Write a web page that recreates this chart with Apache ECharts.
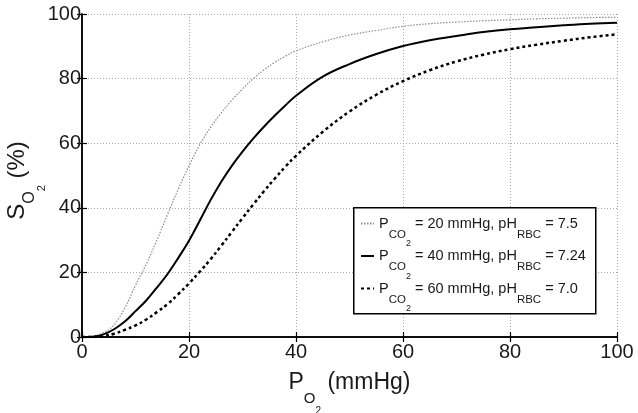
<!DOCTYPE html>
<html>
<head>
<meta charset="utf-8">
<script src="https://cdn.jsdelivr.net/npm/echarts@6/dist/echarts.min.js"></script>
<style>
  html, body { margin: 0; padding: 0; background: #fff; }
  #chart { width: 638px; height: 413px; }
</style>
</head>
<body>
<div id="chart"></div>
<script>
// PO2 (mmHg) sample points and SO2 (%)
var po2 = [0, 2, 4, 6, 8, 10, 12, 14, 16, 18, 20, 22, 24, 26, 28, 30, 32, 34, 36, 38, 40,
           45, 50, 55, 60, 65, 70, 75, 80, 85, 90, 95, 100];
var so2Pco2_20 = [0, 0.3, 1.3, 3.8, 9, 16, 22.5, 30, 38, 45.8, 53, 59.5, 64.8, 69.3, 73.3, 76.8, 80, 82.7, 85, 86.9, 88.6,
                  91.4, 93.5, 94.9, 96.2, 97, 97.5, 97.9, 98.2, 98.5, 98.7, 98.9, 99];
var so2Pco2_40 = [0, 0.1, 0.8, 2.4, 4.8, 8, 11.3, 15.3, 19.5, 24.5, 29.8, 36, 42.3, 48, 53, 57.4, 61.4, 65.1, 68.5, 71.7, 74.7,
                  80.6, 84.5, 87.6, 90.1, 91.9, 93.2, 94.4, 95.3, 95.9, 96.5, 97, 97.3];
var so2Pco2_60 = [0, 0, 0.3, 1, 2.2, 3.6, 5.4, 7.7, 10.2, 13.3, 16.6, 20.2, 24, 28.2, 32.5, 36.8, 41, 45.1, 49, 52.7, 56.1,
                  63.5, 69.8, 75, 79.2, 82.6, 85.3, 87.4, 89.1, 90.5, 91.7, 92.8, 93.7];
var seriesNames = ['pco2_20', 'pco2_40', 'pco2_60'];
var legendLabels = [
    '{m|P}{s|CO}{ss|2}{m| = 20 mmHg, pH}{s|RBC}{m| = 7.5}',
    '{m|P}{s|CO}{ss|2}{m| = 40 mmHg, pH}{s|RBC}{m| = 7.24}',
    '{m|P}{s|CO}{ss|2}{m| = 60 mmHg, pH}{s|RBC}{m| = 7.0}'
];
var xTicks = [0, 20, 40, 60, 80, 100];
var yTicks = [0, 20, 40, 60, 80, 100];

var font = 'Liberation Sans';
var ink = '#1a1a1a';

function pairs(xs, ys) {
    var out = [];
    for (let i = 0; i < xs.length; i++) {
        out.push([xs[i], ys[i]]);
    }
    return out;
}

// rich styles for main text + subscript + subscript of subscript.
// a 'bottom' token sits at lineHeight - height/2, so height sets how far down it goes
function subRich(size, subSize, subSubSize, lh, off1, off2) {
    return {
        m: { fontSize: size, lineHeight: lh, verticalAlign: 'middle', fontFamily: font, color: ink },
        s: { fontSize: subSize, height: lh - 2 * off1, lineHeight: lh - 2 * off1, verticalAlign: 'bottom', fontFamily: font, color: ink },
        ss: { fontSize: subSubSize, height: lh - 2 * off2, lineHeight: lh - 2 * off2, verticalAlign: 'bottom', fontFamily: font, color: ink },
        pad: { fontSize: size, width: 10, lineHeight: lh, verticalAlign: 'middle' }
    };
}

var myChart = echarts.init(document.getElementById('chart'), null, { renderer: 'canvas' });

var boxAxis = {
    axisLine: { show: true, lineStyle: { color: '#000', width: 1.5 } },
    axisTick: { show: true, inside: true, length: 5, lineStyle: { color: '#000', width: 1.2 } },
    axisLabel: { show: false },
    splitLine: { show: false }
};

var option = {
    animation: false,
    backgroundColor: '#fff',
    grid: { left: 82, right: 21, top: 14, bottom: 76, outerBoundsMode: 'none', containLabel: false },
    xAxis: [
        {
            type: 'value',
            min: xTicks[0],
            max: xTicks[xTicks.length - 1],
            interval: 20,
            position: 'bottom',
            axisLine: { show: true, onZero: false, lineStyle: { color: '#000', width: 1.5 } },
            axisTick: { show: true, inside: true, length: 5, lineStyle: { color: '#000', width: 1.2 } },
            axisLabel: { color: ink, fontSize: 20, fontFamily: font, margin: 5 },
            splitLine: { show: true, lineStyle: { color: '#aaa', width: 1, type: [1, 2] } },
            name: '{m|P}{s|O}{ss|2}{m| (mmHg)}',
            nameLocation: 'middle',
            nameGap: 14.5,
            nameMoveOverlap: false,
            nameTextStyle: { color: ink, fontFamily: font, rich: subRich(23, 15, 10, 62, 16, 28.5) }
        },
        Object.assign({ type: 'value', min: 0, max: 100, interval: 20, position: 'top' }, boxAxis)
    ],
    yAxis: [
        {
            type: 'value',
            min: yTicks[0],
            max: yTicks[yTicks.length - 1],
            interval: 20,
            position: 'left',
            axisLine: { show: true, onZero: false, lineStyle: { color: '#000', width: 1.5 } },
            axisTick: { show: true, inside: true, length: 5, lineStyle: { color: '#000', width: 1.2 } },
            axisLabel: { color: ink, fontSize: 20, fontFamily: font, margin: 1 },
            splitLine: { show: true, lineStyle: { color: '#aaa', width: 1, type: [1, 2] } },
            name: '{m|S}{s|O}{ss|2}{m| (%)}{pad| }',
            nameLocation: 'middle',
            nameRotate: 90,
            nameGap: 38,
            nameMoveOverlap: false,
            nameTextStyle: { color: ink, fontFamily: font, rich: subRich(24, 16, 11, 54, 12.5, 24.5) }
        },
        Object.assign({ type: 'value', min: 0, max: 100, interval: 20, position: 'right' }, boxAxis)
    ],
    // legend frame
    graphic: [
        {
            type: 'rect',
            left: 353,
            top: 207,
            z: 5,
            shape: { width: 242, height: 106 },
            style: { fill: '#fff', stroke: '#000', lineWidth: 1.5 }
        }
    ],
    legend: {
        orient: 'vertical',
        left: 360,
        top: 216,
        z: 6,
        padding: 0,
        itemGap: 0,
        itemWidth: 13,
        itemHeight: 10,
        itemStyle: { opacity: 0 },
        data: seriesNames,
        formatter: function (name) {
            return legendLabels[seriesNames.indexOf(name)];
        },
        textStyle: { color: ink, fontFamily: font, rich: subRich(14.5, 11.5, 9, 42, 11, 20.5) }
    },
    series: [
        {
            name: seriesNames[0],
            type: 'line',
            symbol: 'none',
            smooth: 0.4,
            lineStyle: { color: '#8c8c8c', width: 1.2, type: [1.5, 1.5] },
            itemStyle: { color: '#8c8c8c' },
            data: pairs(po2, so2Pco2_20)
        },
        {
            name: seriesNames[1],
            type: 'line',
            symbol: 'none',
            smooth: 0.4,
            lineStyle: { color: '#000', width: 2 },
            itemStyle: { color: '#000' },
            data: pairs(po2, so2Pco2_40)
        },
        {
            name: seriesNames[2],
            type: 'line',
            symbol: 'none',
            smooth: 0.4,
            lineStyle: { color: '#000', width: 2.5, type: [3, 3] },
            itemStyle: { color: '#000' },
            data: pairs(po2, so2Pco2_60)
        }
    ]
};

myChart.setOption(option);
</script>
</body>
</html>
